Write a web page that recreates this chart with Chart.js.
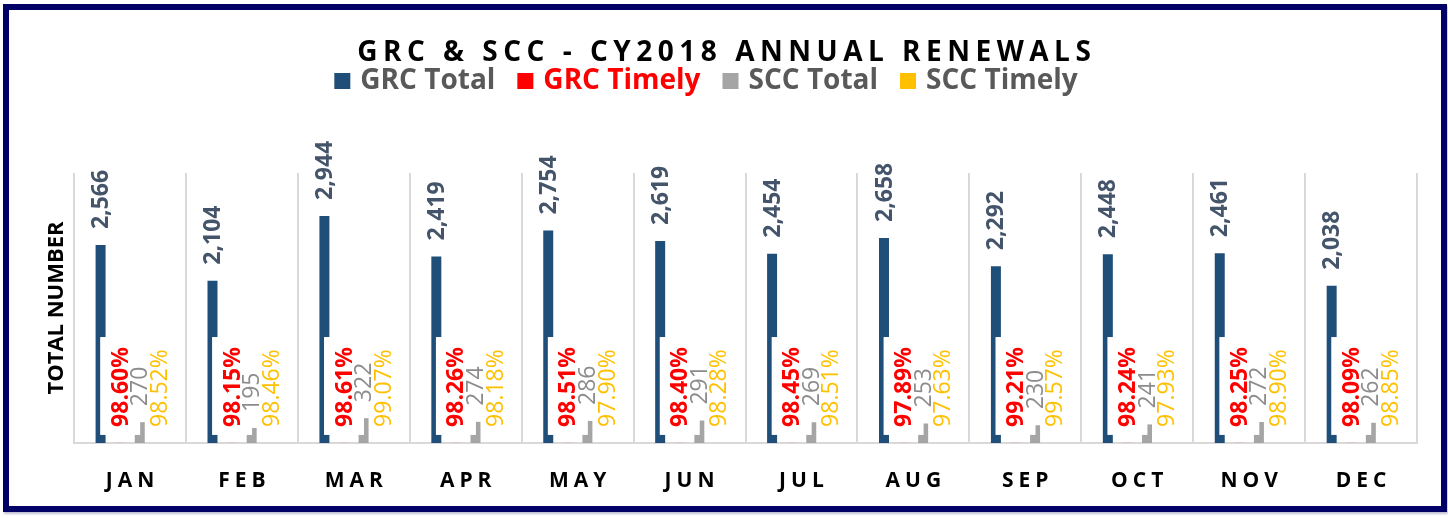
<!DOCTYPE html>
<html lang="en">
<head>
<meta charset="UTF-8">
<title>GRC &amp; SCC - CY2018 Annual Renewals</title>
<style>
    body { margin: 0; background: #fff; }
    .frame {
        position: absolute; left: 3px; top: 4px;
        width: 1432px; height: 496px;
        border: 6px solid #000066;
        box-shadow: 1px 2px 2px rgba(0, 0, 90, 0.25);
    }
    canvas { position: absolute; left: 0; top: 0; }
</style>
<script src="https://cdn.jsdelivr.net/npm/chart.js"></script>
</head>
<body>
<div class="frame"></div>
<canvas id="chart" width="1448" height="518"></canvas>
<script>
// data
const months = ['JAN', 'FEB', 'MAR', 'APR', 'MAY', 'JUN', 'JUL', 'AUG', 'SEP', 'OCT', 'NOV', 'DEC'];
const grcTotal = [2566, 2104, 2944, 2419, 2754, 2619, 2454, 2658, 2292, 2448, 2461, 2038];
const grcTimely = [0.9860, 0.9815, 0.9861, 0.9826, 0.9851, 0.9840, 0.9845, 0.9789, 0.9921, 0.9824, 0.9825, 0.9809];
const sccTotal = [270, 195, 322, 274, 286, 291, 269, 253, 230, 241, 272, 262];
const sccTimely = [0.9852, 0.9846, 0.9907, 0.9818, 0.9790, 0.9828, 0.9851, 0.9763, 0.9957, 0.9793, 0.9890, 0.9885];
const seriesNames = ['GRC Total', 'GRC Timely', 'SCC Total', 'SCC Timely'];
const titleText = 'GRC & SCC - CY2018 ANNUAL RENEWALS';
const axisTitle = 'TOTAL NUMBER';

const FONT = '"Open Sans", "Noto Sans", sans-serif';
const colors = ['#1F4E79', '#FF0000', '#A5A5A5', '#FFC000'];
const legendTextColors = ['#595959', '#FF0000', '#595959', '#595959'];

const count = v => v.toLocaleString('en-US');
const pct = v => (v * 100).toFixed(2) + '%';
const labelStyle = [
    { font: 'bold 23px ' + FONT, color: '#44546A', fmt: count },
    { font: 'bold 23px ' + FONT, color: '#FF0000', fmt: pct },
    { font: '23px ' + FONT, color: '#8C8C8C', fmt: count },
    { font: '23px ' + FONT, color: '#FFC000', fmt: pct }
];

// text going upwards from (x, y)
function vText(ctx, text, x, y, font, color, align) {
    ctx.save();
    ctx.translate(x, y);
    ctx.rotate(-Math.PI / 2);
    ctx.font = font;
    ctx.fillStyle = color;
    ctx.textAlign = align || 'left';
    ctx.textBaseline = 'middle';
    ctx.fillText(text, 0, 0);
    ctx.restore();
}

function spacedText(ctx, text, x, y, font, spacing) {
    ctx.save();
    ctx.font = font;
    ctx.textAlign = 'center';
    ctx.textBaseline = 'alphabetic';
    ctx.fillStyle = '#000';
    if ('letterSpacing' in ctx) {
        ctx.letterSpacing = spacing + 'px';
        x += spacing / 2;
    }
    ctx.fillText(text, x, y);
    ctx.restore();
}

const decor = {
    id: 'decor',
    afterDatasetsDraw(chart) {
        const ctx = chart.ctx;
        // GRC Timely labels sit on a white box
        ctx.save();
        ctx.font = labelStyle[1].font;
        ctx.fillStyle = '#fff';
        chart.getDatasetMeta(1).data.forEach((bar, i) => {
            const w = ctx.measureText(pct(grcTimely[i])).width;
            ctx.fillRect(bar.x - 20, bar.y - 16 - w - 10, 40, w + 18);
        });
        ctx.restore();

        chart.data.datasets.forEach((ds, d) => {
            const st = labelStyle[d];
            chart.getDatasetMeta(d).data.forEach((bar, i) => {
                vText(ctx, st.fmt(ds.data[i]), bar.x + 1, bar.y - 16, st.font, st.color);
            });
        });
    },
    afterDraw(chart) {
        const ctx = chart.ctx;
        const x = chart.scales.x;

        spacedText(ctx, titleText, 724, 61, 'bold 28px ' + FONT, 5.5);

        // legend
        ctx.save();
        ctx.font = 'bold 28px ' + FONT;
        const widths = seriesNames.map(n => ctx.measureText(n).width);
        const total = widths.reduce((a, b) => a + b + 26, 0) + 22 * (seriesNames.length - 1);
        let lx = 706 - total / 2;
        ctx.textBaseline = 'alphabetic';
        seriesNames.forEach((n, i) => {
            ctx.fillStyle = chart.data.datasets[i].backgroundColor;
            ctx.fillRect(lx, 73, 16, 16);
            ctx.fillStyle = legendTextColors[i];
            ctx.fillText(n, lx + 26, 89);
            lx += 26 + widths[i] + 22;
        });
        ctx.restore();

        vText(ctx, axisTitle, 57, (chart.chartArea.top + chart.chartArea.bottom) / 2,
            'bold 22px ' + FONT, '#000', 'center');

        months.forEach((m, i) => {
            spacedText(ctx, m, x.getPixelForValue(i), 487, 'bold 21px ' + FONT, 5);
        });
    }
};

const bar = (i, data) => ({
    label: seriesNames[i],
    data: data,
    backgroundColor: colors[i],
    barPercentage: 0.51,
    categoryPercentage: 0.7
});

new Chart(document.getElementById('chart'), {
    type: 'bar',
    data: {
        labels: months,
        datasets: [bar(0, grcTotal), bar(1, grcTimely), bar(2, sccTotal), bar(3, sccTimely)]
    },
    options: {
        responsive: false,
        animation: false,
        layout: { padding: { left: 74, right: 31, top: 173, bottom: 75 } },
        plugins: {
            legend: { display: false },
            tooltip: { enabled: false }
        },
        scales: {
            x: {
                offset: true,
                grid: { offset: true, color: '#D9D9D9', lineWidth: 2, drawTicks: false },
                border: { color: '#D9D9D9', width: 2 },
                ticks: { display: false }
            },
            y: { display: false, min: 0, max: 3500 }
        }
    },
    plugins: [decor]
});
</script>
</body>
</html>
